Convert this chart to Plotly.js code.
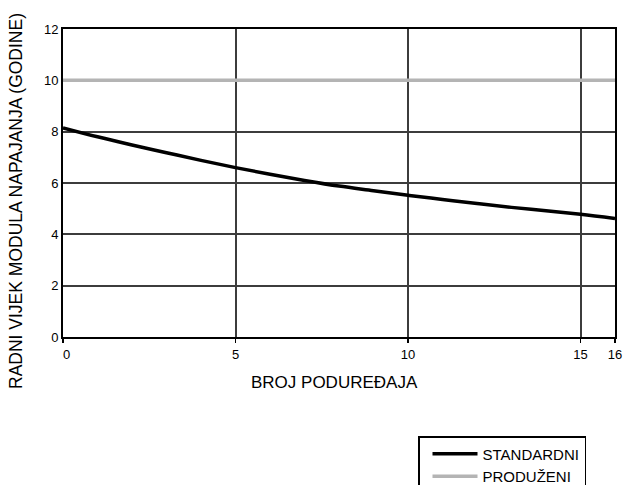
<!DOCTYPE html>
<html>
<head>
<meta charset="utf-8">
<script src="https://cdn.plot.ly/plotly-3.0.1.min.js"></script>
<style>html,body{margin:0;padding:0;background:#fff;}#chart{width:625px;height:485px;}</style>
</head>
<body>
<div id="chart"></div>
<script>
// Data
const devices = [0, 1, 2, 3, 4, 5, 6, 7, 8, 9, 10, 11, 12, 13, 14, 15, 16];
const standardLife = [8.15, 7.8, 7.48, 7.18, 6.88, 6.6, 6.34, 6.1, 5.88, 5.7, 5.52, 5.36, 5.2, 5.05, 4.92, 4.78, 4.62];
const extendedX = [0, 16];
const extendedLife = [10, 10];
const xTickVals = [0, 5, 10, 15, 16];
const xTickText = ['\u00a0\u00a00', '5', '10', '15', '16'];
const yTickVals = [0, 2, 4, 6, 8, 10, 12];
const seriesNames = ['STANDARDNI', 'PRODUŽENI'];
const xTitle = 'BROJ PODUREĐAJA';
const yTitle = 'RADNI VIJEK MODULA NAPAJANJA (GODINE)';

const font = 'Liberation Sans, Arial, sans-serif';

const traces = [
  {
    x: devices, y: standardLife, name: seriesNames[0], type: 'scatter', mode: 'lines',
    line: {color: '#000000', width: 3.5, shape: 'spline'}, cliponaxis: false
  },
  {
    x: extendedX, y: extendedLife, name: seriesNames[1], type: 'scatter', mode: 'lines',
    line: {color: '#b4b4b4', width: 3.5}, cliponaxis: false
  }
];

const layout = {
  width: 625, height: 485,
  margin: {l: 63, r: 10, t: 29, b: 148, autoexpand: false},
  paper_bgcolor: '#ffffff', plot_bgcolor: '#ffffff',
  font: {family: font, color: '#000000', size: 12},
  showlegend: true,
  legend: {
    x: (418 - 63) / 552, y: (337 - 436) / 308, xanchor: 'left', yanchor: 'top',
    bordercolor: '#000000', borderwidth: 1.5, bgcolor: '#ffffff',
    font: {family: font, size: 15, color: '#000000'},
    tracegroupgap: 0, itemwidth: 45, indentation: 8
  },
  xaxis: {
    range: [0, 16], tickvals: xTickVals, ticktext: xTickText,
    showgrid: true, gridcolor: '#3c3c3c', gridwidth: 2,
    showline: true, linecolor: '#000000', linewidth: 2, mirror: true,
    ticks: 'outside', ticklen: 4, tickwidth: 1.5, tickcolor: '#000000',
    tickfont: {family: font, size: 13, color: '#000000'},
    zeroline: false, fixedrange: true
  },
  yaxis: {
    range: [0, 12], tickvals: yTickVals,
    showgrid: true, gridcolor: '#3c3c3c', gridwidth: 2,
    showline: true, linecolor: '#000000', linewidth: 2, mirror: true,
    ticks: '', ticklen: 0,
    tickfont: {family: font, size: 13, color: '#000000'},
    zeroline: false, fixedrange: true
  },
  annotations: [
    {
      text: xTitle, xref: 'paper', yref: 'paper',
      x: (334 - 63) / 552, y: (337 - 382) / 308, xanchor: 'center', yanchor: 'middle',
      showarrow: false, font: {family: font, size: 17, color: '#000000'}
    },
    {
      text: yTitle, xref: 'paper', yref: 'paper', textangle: -90,
      x: (16 - 63) / 552, y: (337 - 201) / 308, xanchor: 'center', yanchor: 'middle',
      showarrow: false, font: {family: font, size: 17.5, color: '#000000'}
    }
  ]
};

Plotly.newPlot('chart', traces, layout, {displayModeBar: false, staticPlot: true});
</script>
</body>
</html>
